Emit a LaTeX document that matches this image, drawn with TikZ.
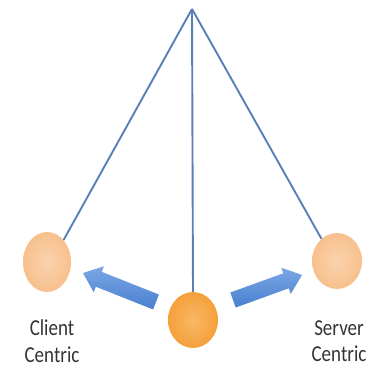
\documentclass[tikz,border=0pt]{standalone}
\usepackage{fontspec}
\setmainfont{Carlito}
\usetikzlibrary{shapes.geometric,calc}
\definecolor{lineblue}{HTML}{5A7FB5}
\definecolor{arrowblue}{HTML}{4A80D0}
\definecolor{arrowlight}{HTML}{7AA6E4}
\definecolor{lightorange}{HTML}{F7C08C}
\definecolor{lightorangein}{HTML}{FAD3AE}
\definecolor{midorange}{HTML}{F5A03C}
\definecolor{midorangein}{HTML}{F9B865}
\tikzset{
  ball/.style={ellipse, inner sep=0pt},
  sideball/.style={ball, inner color=lightorangein, outer color=lightorange},
  midball/.style={ball, inner color=midorangein, outer color=midorange},
  wire/.style={draw=lineblue, line width=1.9pt},
  label/.style={font=\fontsize{19}{22}\selectfont, text=black!80, align=center, inner sep=0pt, yscale=1.2, transform shape},
  fatarrow/.style={draw=none}
}
\begin{document}
\begin{tikzpicture}[x=1pt,y=1pt]
\useasboundingbox (0,0) rectangle (373,368);
\coordinate (apex) at (192,359);
\node[sideball, minimum width=48pt, minimum height=60pt] (client) at (47,106) {};
\node[sideball, minimum width=50pt, minimum height=56pt] (server) at (337,107) {};
\node[midball, minimum width=50pt, minimum height=56pt] (center) at (193,48) {};
\draw[wire] (apex) -- (client.53);
\draw[wire] (apex) -- (server.125);
\draw[wire] (apex) -- (center.north);
% fat arrows
\coordinate (lt) at (156,66);
\coordinate (lh) at (83,95);
\coordinate (rt) at (233,68);
\coordinate (rh) at (302,93);
\foreach \t/\h in {lt/lh, rt/rh}{
  \path[fatarrow, left color=arrowlight, right color=arrowblue, shading angle=0]
    let \p1=($(\h)-(\t)$), \n1={atan2(\y1,\x1)}, \n2={veclen(\x1,\y1)} in
    [shift={(\t)}, rotate=\n1]
    (0,-8) -- (\n2-17,-8) -- (\n2-17,-14) -- (\n2,0) -- (\n2-17,14) -- (\n2-17,8) -- (0,8) -- cycle;
}
\node[label] (clientlabel) at (52,27) {Client\\[0pt]Centric};
\node[label] (serverlabel) at (339,27) {Server\\[0pt]Centric};
\end{tikzpicture}
\end{document}
